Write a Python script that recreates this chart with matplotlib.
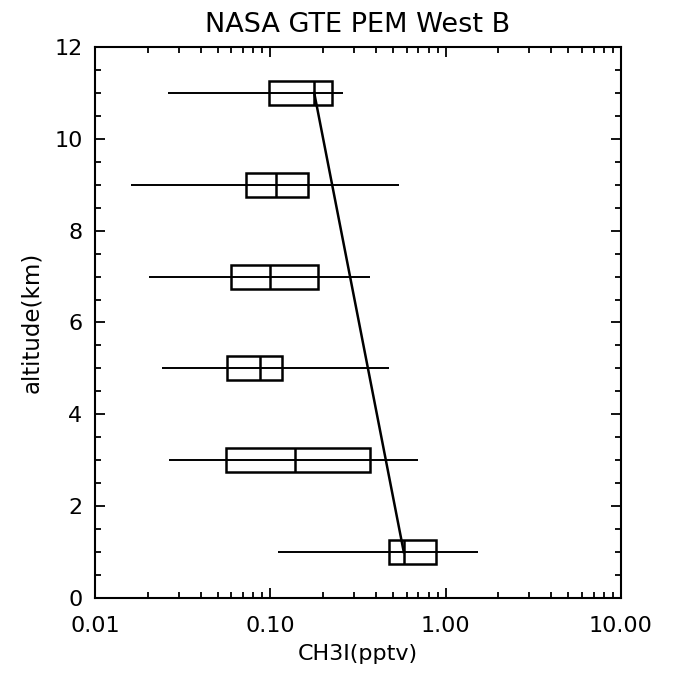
import matplotlib.pyplot as plt
from matplotlib.ticker import FixedLocator, MultipleLocator, LogLocator, NullFormatter

# CH3I profile, NASA GTE PEM West B
altitude = [1, 3, 5, 7, 9, 11]
whisker_lo = [0.110, 0.0264, 0.0242, 0.0203, 0.0160, 0.0260]
q1 = [0.477, 0.056, 0.0568, 0.0598, 0.0723, 0.0980]
median = [0.577, 0.138, 0.0877, 0.0995, 0.108, 0.178]
q3 = [0.880, 0.372, 0.116, 0.188, 0.163, 0.226]
whisker_hi = [1.52, 0.692, 0.475, 0.368, 0.542, 0.261]

# fitted trend line (between lowest and highest level medians)
fit_x = [0.577, 0.178]
fit_y = [1, 11]

x_ticks = [0.01, 0.1, 1.0, 10.0]
x_labels = ["0.01", "0.10", "1.00", "10.00"]

plt.rcParams['font.family'] = ['DejaVu Sans']

fig = plt.figure(figsize=(6.8, 6.77), dpi=100)
ax = fig.add_axes([0.1397, 0.1167, 0.7735, 0.8139])

box_h = 0.52
widths = [b - a for a, b in zip(q1, q3)]
ax.hlines(altitude, whisker_lo, whisker_hi, color='black', lw=1.4)
ax.barh(altitude, widths, left=q1, height=box_h, fill=False,
        edgecolor='black', linewidth=1.8)
ax.vlines(median, [a - box_h / 2 for a in altitude],
          [a + box_h / 2 for a in altitude], color='black', lw=1.8)
ax.plot(fit_x, fit_y, color='black', lw=1.8)

ax.set_xscale('log')
ax.set_xlim(0.01, 10)
ax.set_ylim(0, 12)
ax.xaxis.set_major_locator(FixedLocator(x_ticks))
ax.set_xticklabels(x_labels)
ax.xaxis.set_minor_locator(LogLocator(base=10, subs=range(2, 10)))
ax.xaxis.set_minor_formatter(NullFormatter())
ax.yaxis.set_major_locator(MultipleLocator(2))
ax.yaxis.set_minor_locator(MultipleLocator(0.5))

ax.tick_params(which='both', direction='in', top=True, right=True,
               width=1.3, labelsize=16)
ax.tick_params(which='major', length=7)
ax.tick_params(which='minor', length=4)
ax.tick_params(axis='y', pad=9)
ax.tick_params(axis='x', pad=13)
for s in ax.spines.values():
    s.set_linewidth(1.5)

ax.set_title("NASA GTE PEM West B", fontsize=19.5, pad=11)
ax.set_xlabel("CH3I(pptv)", fontsize=16, labelpad=6)
ax.set_ylabel("altitude(km)", fontsize=16.5, labelpad=8)

fig.savefig("out.png", dpi=100)
